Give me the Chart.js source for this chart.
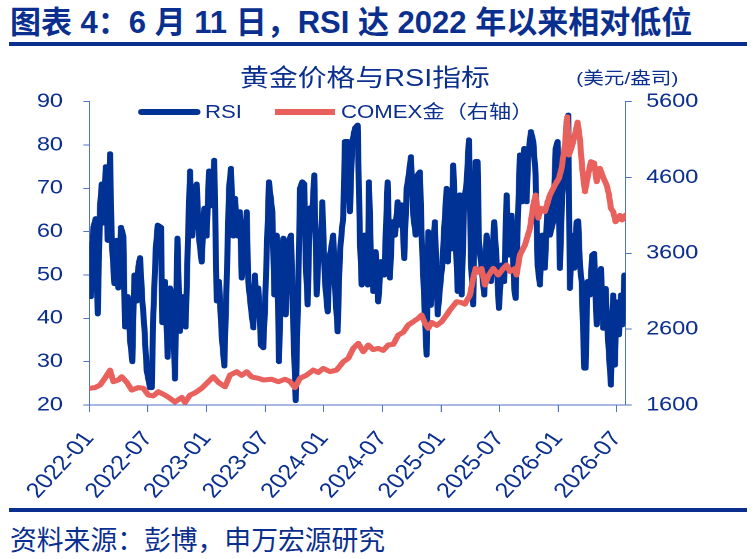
<!DOCTYPE html>
<html>
<head>
<meta charset="utf-8">
<script src="https://cdn.jsdelivr.net/npm/chart.js@4.4.1/dist/chart.umd.min.js"></script>
<style>
  body {
    margin: 0;
    width: 754px;
    height: 559px;
    background: #fff;
    position: relative;
    overflow: hidden;
    font-family: "Liberation Sans", Arial, "Noto Sans CJK SC", sans-serif;
    color: #0b2f8e;
  }
  #title {
    position: absolute;
    left: 10px;
    top: 7px;
    font-size: 31px;
    line-height: 32px;
    font-weight: bold;
    white-space: nowrap;
  }
  .rule {
    position: absolute;
    left: 9px;
    width: 738px;
    height: 4px;
    background: #0b2f8e;
  }
  #source {
    position: absolute;
    left: 10px;
    top: 526px;
    font-size: 26.8px;
    line-height: 30px;
    white-space: nowrap;
  }
  /* the chart part of the picture is stretched sideways */
  #wrap {
    position: absolute;
    left: 0;
    top: 0;
    width: 628px;
    height: 505px;
    transform: scaleX(1.2006);
    transform-origin: 0 0;
  }
  #wrap canvas { position: absolute; left: 0; top: 0; }
  .txt { position: absolute; white-space: nowrap; }
  .swatch { position: absolute; height: 6px; }
</style>
</head>
<body>
<div id="title">图表 4：6 月 11 日，RSI 达 2022 年以来相对低位</div>
<div class="rule" style="top:42px"></div>

<div id="wrap">
  <canvas id="myChart" width="628" height="505"></canvas>
  <div class="txt" style="left:200px;top:65px;font-size:24px;line-height:26px">黄金价格与RSI指标</div>
  <div class="txt" style="left:480px;top:68px;font-size:17.2px;line-height:20px">(美元/盎司)</div>
  <div class="swatch" style="left:115px;top:108.7px;width:52px;border-radius:3px;background:#003296"></div>
  <div class="txt" style="left:170.7px;top:101.5px;font-size:18.5px;line-height:20px">RSI</div>
  <div class="swatch" style="left:229px;top:108.7px;width:50px;background:#e8615c"></div>
  <div class="txt" style="left:284px;top:101.5px;font-size:18.5px;line-height:20px">COMEX金（右轴）</div>
</div>

<div class="rule" style="top:508px"></div>
<div id="source">资料来源：彭博，申万宏源研究</div>

<script>
// x values are months counted from 2022-01
const tickMonths = [0, 6, 12, 18, 24, 30, 36, 42, 48, 54];
const tickLabels = [
  "2022-01", "2022-07", "2023-01", "2023-07", "2024-01",
  "2024-07", "2025-01", "2025-07", "2026-01", "2026-07",
];

const rsiMonths = [
  0.0, 0.17, 0.41, 0.65, 0.86, 1.10, 1.27, 1.43, 1.68, 1.88, 2.12, 2.29, 2.56, 2.80, 2.97,
  3.24, 3.48, 3.65, 3.93, 4.17, 4.40, 4.61, 4.85, 5.02, 5.19, 5.43, 5.63, 5.87, 6.21, 6.39,
  6.55, 6.80, 7.00, 7.34, 7.47, 7.75, 8.02, 8.26, 8.50, 8.77, 9.02, 9.28, 9.52, 9.72, 9.86,
  10.13, 10.31, 10.54, 10.75, 10.99, 11.23, 11.50, 11.77, 12.01, 12.25, 12.53, 12.79, 13.04, 13.28, 13.55,
  13.82, 14.06, 14.30, 14.50, 14.74, 14.91, 15.19, 15.42, 15.60, 15.87, 16.11, 16.27, 16.55, 16.79, 16.96,
  17.13, 17.30, 17.57, 17.81, 17.98, 18.39, 18.73, 18.94, 19.18, 19.42, 19.69, 19.86, 20.10, 20.37, 20.65,
  20.88, 21.13, 21.39, 21.57, 21.80, 22.01, 22.15, 22.35, 22.59, 22.82, 23.03, 23.28, 23.44, 23.72, 23.85,
  24.12, 24.40, 24.64, 24.97, 25.15, 25.42, 25.66, 26.00, 26.17, 26.45, 26.68, 26.92, 27.20, 27.47, 27.71,
  27.88, 28.15, 28.50, 28.63, 28.83, 29.07, 29.31, 29.58, 29.86, 30.19, 30.54, 30.78, 31.01, 31.29, 31.57,
  31.80, 31.97, 32.24, 32.49, 32.65, 32.93, 33.16, 33.41, 33.61, 33.85, 34.02, 34.29, 34.53, 34.70, 34.97,
  35.21, 35.38, 35.66, 35.90, 36.13, 36.34, 36.58, 36.70, 36.82, 37.02, 37.26, 37.50, 37.71, 37.94, 38.12,
  38.38, 38.63, 38.86, 39.07, 39.30, 39.55, 39.75, 39.89, 40.16, 40.43, 40.67, 40.91, 41.12, 41.45, 41.70,
  41.93, 42.21, 42.48, 42.72, 42.96, 43.23, 43.50, 43.64, 43.85, 44.08, 44.32, 44.52, 44.77, 44.93, 45.21,
  45.45, 45.69, 45.90, 46.13, 46.37, 46.64, 46.92, 47.15, 47.49, 47.74, 47.94, 48.18, 48.41, 48.69, 48.86,
  49.03, 49.20, 49.44, 49.64, 49.89, 50.05, 50.23, 50.40, 50.67, 50.81, 51.01, 51.25, 51.48, 51.69, 51.94,
  52.10, 52.38, 52.61, 52.86, 53.12, 53.40, 53.63, 53.81, 53.98, 54.22, 54.43, 54.57, 54.78, 54.92,
];
const rsiValues = [
  57, 45, 61, 63, 41, 66, 71, 62, 75, 58, 78, 58, 48, 58, 47,
  61, 59, 38, 45, 35, 30, 50, 44, 52, 54, 44, 38, 28, 24, 24,
  41, 56, 61.5, 61, 39, 48.5, 31, 47, 45, 26, 58.5, 37, 45, 41.5, 38,
  61, 74, 59, 68.5, 71, 58.5, 53, 65.4, 59, 74, 66, 76.5, 44, 48.5, 36,
  29, 48.5, 70, 74.6, 59, 67.7, 59, 64.6, 49.3, 55.4, 64.6, 48.5, 42.3, 37.8, 50,
  40.8, 47, 33.8, 33.2, 42.3, 71.5, 64.6, 45.4, 59.2, 30, 56.2, 58.5, 40.8, 57.7, 59.2,
  37.8, 21, 47, 70, 71.5, 71, 53.1, 43.1, 65.5, 64.6, 73.1, 45.4, 53.1, 57.7, 66.9,
  48.5, 41.5, 54.6, 59.2, 47, 36.9, 55.4, 63.8, 80.8, 80.8, 64.6, 80.8, 83.9, 84.6, 57.7,
  47.7, 59.2, 47.7, 71.5, 54.6, 46.2, 55.4, 43.8, 53.1, 50, 71.5, 49.3, 62.3, 59.2, 66.9,
  61.5, 66.2, 53.8, 70, 72.3, 77.3, 63.8, 59.2, 73.1, 73.8, 59.2, 43.8, 31.5, 60, 43,
  57.7, 62.3, 40.8, 47, 52.3, 61, 70, 53, 62.3, 56, 75.4, 59.2, 46.2, 68.5, 45.4,
  66.9, 71.5, 81.2, 53.1, 43.1, 76.2, 76.2, 57.7, 51.5, 45.4, 59.2, 54.6, 48.5, 62.3, 53.1,
  42.3, 52.3, 48.5, 68.5, 54.6, 63.8, 46.9, 44.6, 60.8, 77.7, 66.9, 79.2, 66.9, 77.7, 83.1,
  80.8, 73.1, 52, 47.7, 59.2, 51.6, 66.9, 59.2, 62.3, 79.2, 80.8, 51.5, 68.5, 73.1, 85.4,
  86.9, 46.9, 59.2, 51.6, 62.3, 62.5, 52.3, 48.5, 28.5, 28.5, 48.5, 45.4, 54.6, 55, 38.5,
  48.5, 51.5, 37.7, 46.9, 34.6, 24.6, 45.4, 29.2, 43.8, 36.2, 45.4, 38.5, 50, 47,
];

const goldMonths = [
  0.07, 0.58, 1.10, 1.61, 2.12, 2.46, 2.97, 3.31, 3.83, 4.34, 5.02, 5.53, 6.04, 6.55, 7.06,
  7.75, 8.26, 8.77, 9.46, 9.80, 10.31, 10.82, 11.50, 12.18, 12.69, 13.20, 13.89, 14.40, 15.09, 15.60,
  16.11, 16.62, 17.30, 17.81, 18.67, 19.35, 20.03, 20.54, 21.05, 21.57, 22.25, 22.93, 23.44, 23.95, 24.64,
  25.32, 26.00, 26.51, 27.02, 27.53, 28.05, 28.56, 29.07, 29.58, 30.09, 30.60, 31.12, 31.63, 32.14, 32.65,
  33.16, 33.67, 34.02, 34.36, 34.70, 35.05, 35.56, 36.07, 36.58, 36.92, 37.60, 38.12, 38.45, 38.97, 39.30,
  39.55, 39.82, 40.16, 40.50, 40.84, 41.35, 41.86, 42.37, 42.72, 43.06, 43.57, 43.74, 44.08, 44.60, 45.11,
  45.45, 45.69, 45.96, 46.23, 46.64, 47.15, 47.67, 48.08, 48.35, 48.69, 48.93, 49.10, 49.38, 49.71, 49.99,
  50.23, 50.46, 50.74, 51.01, 51.35, 51.69, 51.94, 52.27, 52.61, 52.96, 53.19, 53.40, 53.63, 53.88, 54.32,
  54.55, 54.92,
];
const goldValues = [
  1820, 1830, 1863, 1955, 2060, 1907, 1930, 1973, 1900, 1797, 1830, 1820, 1731, 1720, 1775,
  1730, 1688, 1640, 1700, 1635, 1731, 1760, 1820, 1907, 1973, 1900, 1840, 1995, 2039, 1990,
  2039, 1970, 1952, 1930, 1940, 1907, 1940, 1910, 1830, 1952, 1995, 2061, 2030, 2083, 2040,
  2061, 2171, 2215, 2347, 2413, 2303, 2391, 2330, 2347, 2320, 2391, 2400, 2523, 2560, 2655,
  2698, 2743, 2787, 2680, 2611, 2690, 2650, 2698, 2787, 2853, 2962, 2950, 2930, 3050, 3270,
  3402, 3350, 3400, 3182, 3300, 3402, 3314, 3400, 3446, 3360, 3400, 3314, 3578, 3710, 3930,
  4237, 4369, 4066, 4194, 4150, 4369, 4501, 4590, 4721, 5029, 5400, 4897, 5000, 5161, 5330,
  5100, 4721, 4413, 4600, 4809, 4790, 4545, 4721, 4600, 4501, 4380, 4194, 4150, 4017, 4100,
  4040, 4106,
];

const blue = "#003296";
const red = "#e8615c";
const axisColor = "#4f73c6";
const textColor = "#0b2f8e";
const tickFont = { family: "'Liberation Sans', Arial", size: 19.5 };

const rsiData = rsiMonths.map((m, i) => ({ x: m, y: rsiValues[i] }));
const goldData = goldMonths.map((m, i) => ({ x: m, y: goldValues[i] }));

const ctx = document.getElementById("myChart");

const chart = new Chart(ctx, {
  type: "line",
  data: {
    datasets: [
      {
        label: "RSI",
        data: rsiData,
        yAxisID: "y",
        borderColor: blue,
        borderWidth: 5,
        pointRadius: 0,
        borderJoinStyle: "round",
        borderCapStyle: "round",
        order: 2,
      },
      {
        label: "COMEX金（右轴）",
        data: goldData,
        yAxisID: "y1",
        borderColor: red,
        borderWidth: 5,
        pointRadius: 0,
        borderJoinStyle: "round",
        borderCapStyle: "round",
        order: 1,
      },
    ],
  },
  options: {
    responsive: false,
    animation: false,
    devicePixelRatio: 2,
    layout: { padding: { top: 101.7, left: 0, right: 0, bottom: 0 } },
    plugins: { legend: { display: false }, tooltip: { enabled: false } },
    scales: {
      x: {
        type: "linear",
        min: 0,
        max: 54.92,
        afterBuildTicks: (s) => {
          s.ticks = tickMonths.map((v) => ({ value: v }));
        },
        afterFit: (s) => {
          s.height = 100;
        },
        grid: { drawOnChartArea: false, color: axisColor, tickLength: 7 },
        border: { color: axisColor, width: 1 },
        ticks: {
          autoSkip: false,
          minRotation: 52,
          maxRotation: 52,
          padding: 15,
          color: textColor,
          font: { family: "'Liberation Sans', Arial", size: 21 },
          callback: (v) => tickLabels[tickMonths.indexOf(v)],
        },
      },
      y: {
        position: "left",
        min: 20,
        max: 90,
        afterFit: (s) => {
          s.width = 74.4;
        },
        grid: { drawOnChartArea: false, color: axisColor, tickLength: 5 },
        border: { color: axisColor, width: 1 },
        ticks: { stepSize: 10, padding: 17, color: textColor, font: tickFont },
      },
      y1: {
        position: "right",
        min: 1600,
        max: 5600,
        afterFit: (s) => {
          s.width = 106.8;
        },
        grid: { drawOnChartArea: false, color: axisColor, tickLength: 5 },
        border: { color: axisColor, width: 1 },
        ticks: {
          stepSize: 1000,
          padding: 12,
          color: textColor,
          font: tickFont,
          callback: (v) => String(v),
        },
      },
    },
  },
});
</script>
</body>
</html>
